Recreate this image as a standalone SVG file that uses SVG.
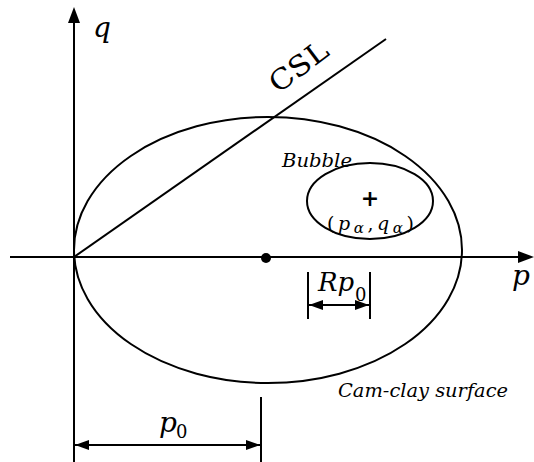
<svg xmlns="http://www.w3.org/2000/svg" width="534" height="462" viewBox="0 0 534 462">
<style>
.ln{stroke:#000;stroke-width:2;fill:none}
text{font-family:"DejaVu Serif","Liberation Serif",serif;fill:#000}
.i{font-style:italic}
</style>
<defs>
<marker id="ah" viewBox="0 0 14 10" refX="14" refY="5" markerWidth="14" markerHeight="10" markerUnits="userSpaceOnUse" orient="auto-start-reverse">
<path d="M0,0 L14,5 L0,10 z" fill="#000"/>
</marker>
</defs>
<g id="axes">
<line class="ln" x1="74" y1="462" x2="74" y2="20"/>
<path d="M74,7 L68,23 L80,23 z" fill="#000"/>
<line class="ln" x1="10" y1="257" x2="520" y2="257"/>
<path d="M534,257 L518,251 L518,263 z" fill="#000"/>
<text class="i" x="93" y="37" font-size="28">q</text>
<text class="i" x="512" y="285" font-size="28">p</text>
</g>
<g id="csl">
<line class="ln" x1="74" y1="257" x2="386" y2="39"/>
<text x="0" y="0" font-size="28" textLength="66" lengthAdjust="spacingAndGlyphs" transform="translate(278,94) rotate(-37)">CSL</text>
</g>
<g id="camclay">
<ellipse class="ln" cx="268" cy="250" rx="194" ry="133"/>
<circle cx="266" cy="258" r="5" fill="#000"/>
<text class="i" x="338" y="397" font-size="18" textLength="170" lengthAdjust="spacingAndGlyphs">Cam-clay surface</text>
</g>
<g id="bubble">
<ellipse class="ln" cx="370" cy="201" rx="63" ry="38"/>
<text class="i" x="282" y="167" font-size="18" textLength="70" lengthAdjust="spacingAndGlyphs">Bubble</text>
<text x="370" y="206" font-size="22" font-weight="bold" text-anchor="middle">+</text>
<text x="327" y="230" font-size="19" textLength="87" lengthAdjust="spacing"><tspan>(</tspan><tspan class="i">p</tspan><tspan class="i" font-size="15" dy="3">α</tspan><tspan dy="-3">,</tspan><tspan class="i">q</tspan><tspan class="i" font-size="15" dy="3">α</tspan><tspan dy="-3">)</tspan></text>
</g>
<g id="rp0">
<line class="ln" x1="308" y1="272" x2="308" y2="319"/>
<line class="ln" x1="370" y1="272" x2="370" y2="319"/>
<line class="ln" x1="309" y1="305" x2="369" y2="305" marker-start="url(#ah)" marker-end="url(#ah)"/>
<text class="i" x="318" y="291" font-size="26">Rp</text>
<text x="355" y="301" font-size="18">0</text>
</g>
<g id="p0">
<line class="ln" x1="261" y1="397" x2="261" y2="462"/>
<line class="ln" x1="75" y1="445" x2="260" y2="445" marker-start="url(#ah)" marker-end="url(#ah)"/>
<text class="i" x="159" y="432" font-size="28">p</text>
<text x="176" y="438" font-size="18">0</text>
</g>
</svg>
